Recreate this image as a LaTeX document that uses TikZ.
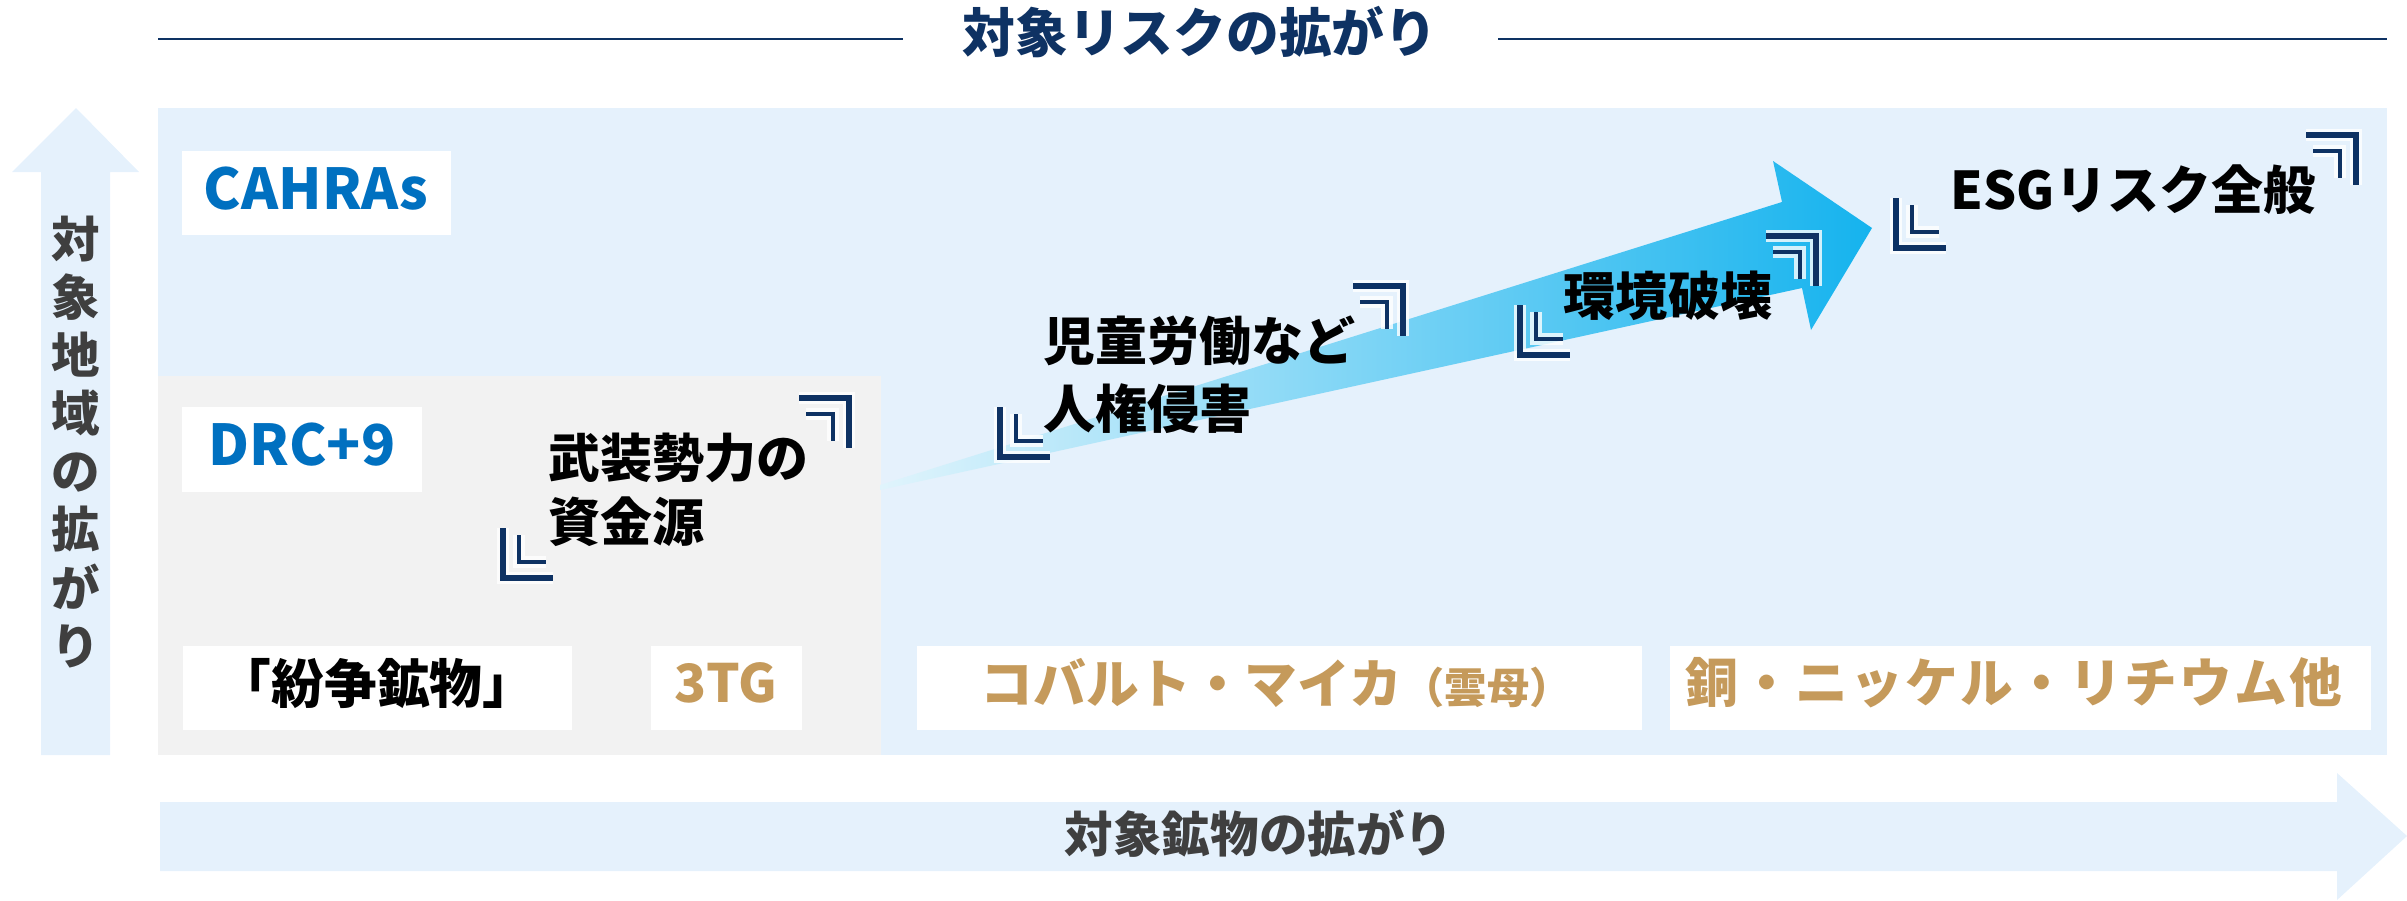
\documentclass[tikz,border=0pt]{standalone}
\usepackage{fontspec}
\setmainfont{Noto Sans CJK JP}
\definecolor{navy}{HTML}{0E3263}
\definecolor{bgblue}{HTML}{E5F1FC}
\definecolor{graybg}{HTML}{F2F2F2}
\definecolor{txtblue}{HTML}{0070C0}
\definecolor{tan}{HTML}{C59A5B}
\definecolor{dgray}{HTML}{3F3F3F}
\definecolor{arrlight}{HTML}{E0F4FC}
\definecolor{arrdark}{HTML}{15B3EE}
\tikzset{
  outerb/.style={draw=navy, line width=1.5pt},
  innerb/.style={draw=navy, line width=0.9pt},
  glowb/.style={draw=white, line width=3.2pt, opacity=0.8},
  bLL/.pic={
    \draw[glowb] (0,-50)--(0,0)--(50,0);
    \draw[glowb] (16,-43)--(16,-16)--(43,-16);
    \draw[outerb] (0,-50)--(0,0)--(50,0);
    \draw[innerb] (16,-43)--(16,-16)--(43,-16);
  },
  bUR/.pic={
    \draw[glowb] (-50,0)--(0,0)--(0,50);
    \draw[glowb] (-43,16)--(-16,16)--(-16,43);
    \draw[outerb] (-50,0)--(0,0)--(0,50);
    \draw[innerb] (-43,16)--(-16,16)--(-16,43);
  },
  lbl/.style={font=\fontsize{14.8}{18.2}\selectfont\bfseries, text=black, inner sep=0pt},
  cat/.style={font=\fontsize{15}{18}\selectfont\bfseries, inner sep=0pt},
  reg/.style={font=\fontsize{16}{19}\selectfont\bfseries, text=txtblue, inner sep=0pt},
  axl/.style={font=\fontsize{13.8}{16.5}\selectfont\bfseries, text=dgray, inner sep=0pt},
}
\begin{document}
\begin{tikzpicture}[x=0.01cm, y=-0.01cm]
\path[use as bounding box] (0,0) rectangle (2407,900);

% title
\node[font=\fontsize{15}{18}\selectfont\bfseries, text=navy, inner sep=0pt] (title) at (1200,32) {対象リスクの拡がり};
\draw[navy, line width=0.6pt] (158,39) -- (903,39);
\draw[navy, line width=0.6pt] (1498,39) -- (2387,39);

% regions
\fill[bgblue] (158,108) rectangle (2387,755);
\fill[graybg] (158,376) rectangle (881,755);

% vertical axis arrow
\fill[bgblue] (41,755) -- (41,172) -- (12,172) -- (76,108) -- (139,172) -- (110,172) -- (110,755) -- cycle;
\node[axl, align=center] (ylab) at (76,442) {対\\象\\地\\域\\の\\拡\\が\\り};

% horizontal axis arrow
\fill[bgblue] (160,802) -- (2337,802) -- (2337,773) -- (2407,836) -- (2337,900) -- (2337,871) -- (160,871) -- cycle;
\node[axl] (xlab) at (1259,834) {対象鉱物の拡がり};

% big gradient arrow
\shade[left color=arrlight, right color=arrdark]
  (880,485) -- (1782,202) -- (1773,161) -- (1872,228) -- (1811,330) -- (1802,288) -- (880,490) -- cycle;

% region labels
\fill[white] (182,151) rectangle (451,235);
\node[reg] (cahras) at (316,189) {CAHRAs};
\fill[white] (182,407) rectangle (422,492);
\node[reg] (drc) at (302,445) {DRC+9};

% mineral boxes
\fill[white] (183,646) rectangle (572,730);
\node[cat, text=black] (funso) at (377,683) {「紛争鉱物」};
\fill[white] (651,646) rectangle (802,730);
\node[cat, text=tan] (tg) at (726,683) {3TG};
\fill[white] (917,646) rectangle (1642,730);
\node[cat, text=tan] (cobalt) at (1276,683) {コバルト・マイカ{\fontsize{12}{14}\selectfont （雲母）}};
\fill[white] (1670,646) rectangle (2371,730);
\node[cat, text=tan] (copper) at (2014,683) {\addfontfeature{LetterSpace=4}銅・ニッケル・リチウム他};

% risk labels
\node[lbl, anchor=north west, align=left] (buso) at (548,432) {武装勢力の\\資金源};
\pic at (503,578) {bLL};
\pic at (849,398) {bUR};

\node[lbl, anchor=north west, align=left, font=\fontsize{14.8}{19.3}\selectfont\bfseries] (jido) at (1043,315) {児童労働など\\人権侵害};
\pic at (1000,457) {bLL};
\pic at (1403,286) {bUR};

\node[lbl] (kankyo) at (1668,296) {環境破壊};
\pic at (1520,355) {bLL};
\pic at (1816,236) {bUR};

\node[lbl] (esg) at (2133,190) {ESGリスク全般};
\pic at (1896,248) {bLL};
\pic at (2356,135) {bUR};
\end{tikzpicture}
\end{document}
